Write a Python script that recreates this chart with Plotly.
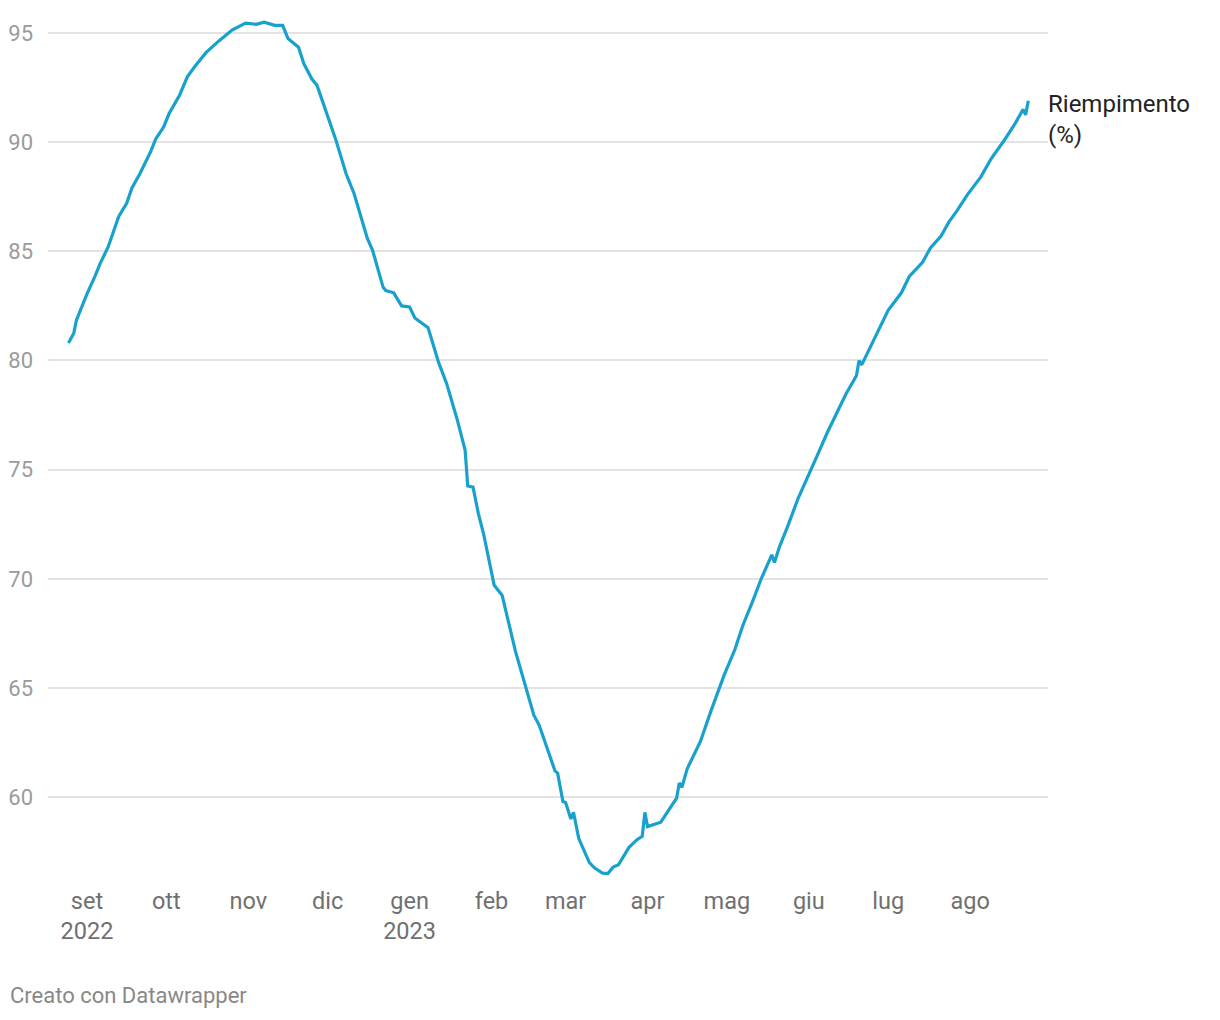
import plotly.graph_objects as go

# Riempimento stoccaggi gas (%)
dates = [
    "2022-08-25", "2022-08-27", "2022-08-28", "2022-08-30", "2022-09-01", "2022-09-04",
    "2022-09-06", "2022-09-09", "2022-09-11", "2022-09-13", "2022-09-16", "2022-09-18",
    "2022-09-21", "2022-09-25", "2022-09-27", "2022-09-30", "2022-10-02", "2022-10-06",
    "2022-10-09", "2022-10-12", "2022-10-16", "2022-10-21", "2022-10-26", "2022-10-31",
    "2022-11-04", "2022-11-07", "2022-11-11", "2022-11-14", "2022-11-16", "2022-11-20",
    "2022-11-22", "2022-11-25", "2022-11-27", "2022-12-02", "2022-12-04", "2022-12-08",
    "2022-12-11", "2022-12-16", "2022-12-18", "2022-12-22", "2022-12-23", "2022-12-26",
    "2022-12-29", "2023-01-01", "2023-01-03", "2023-01-08", "2023-01-12", "2023-01-15",
    "2023-01-19", "2023-01-22", "2023-01-23", "2023-01-25", "2023-01-27", "2023-01-29",
    "2023-02-02", "2023-02-05", "2023-02-10", "2023-02-17", "2023-02-19", "2023-02-25",
    "2023-02-26", "2023-02-28", "2023-03-01", "2023-03-03", "2023-03-04", "2023-03-06",
    "2023-03-10", "2023-03-12", "2023-03-15", "2023-03-17", "2023-03-19", "2023-03-21",
    "2023-03-25", "2023-03-28", "2023-03-30", "2023-03-31", "2023-04-01", "2023-04-06",
    "2023-04-12", "2023-04-13", "2023-04-14", "2023-04-16", "2023-04-21", "2023-04-25",
    "2023-04-30", "2023-05-04", "2023-05-07", "2023-05-11", "2023-05-14", "2023-05-18",
    "2023-05-19", "2023-05-21", "2023-05-24", "2023-05-28", "2023-06-01", "2023-06-04",
    "2023-06-08", "2023-06-11", "2023-06-15", "2023-06-19", "2023-06-20", "2023-06-21",
    "2023-06-26", "2023-07-01", "2023-07-06", "2023-07-09", "2023-07-14", "2023-07-17",
    "2023-07-21", "2023-07-24", "2023-07-27", "2023-07-31", "2023-08-05", "2023-08-09",
    "2023-08-14", "2023-08-18", "2023-08-21", "2023-08-22", "2023-08-23",
]
riempimento = [
    80.8, 81.25, 81.85, 82.45, 83.05, 83.85,
    84.45, 85.2, 85.95, 86.6, 87.2, 87.9,
    88.55, 89.55, 90.15, 90.7, 91.3, 92.15,
    93.0, 93.5, 94.1, 94.65, 95.15, 95.45,
    95.4, 95.5, 95.35, 95.35, 94.75, 94.35,
    93.6, 92.9, 92.6, 90.85, 90.15, 88.55,
    87.65, 85.6, 85.05, 83.35, 83.2, 83.1,
    82.5, 82.45, 81.95, 81.5, 79.9, 78.95,
    77.3, 75.9, 74.25, 74.2, 73.0, 72.05,
    69.7, 69.25, 66.7, 63.75, 63.3, 61.2,
    61.1, 59.8, 59.75, 59.0, 59.3, 58.1,
    57.0, 56.75, 56.52, 56.5, 56.8, 56.9,
    57.7, 58.05, 58.2, 59.3, 58.65, 58.85,
    59.95, 60.65, 60.45, 61.3, 62.55, 63.95,
    65.6, 66.75, 67.85, 69.05, 70.0, 71.1,
    70.75, 71.5, 72.4, 73.7, 74.75, 75.6,
    76.7, 77.45, 78.45, 79.3, 80.0, 79.8,
    81.05, 82.3, 83.1, 83.85, 84.5, 85.15,
    85.7, 86.35, 86.85, 87.6, 88.4, 89.25,
    90.1, 90.85, 91.5, 91.25, 91.9,
]

month_ticks = ["2022-09-01", "2022-10-01", "2022-11-01", "2022-12-01", "2023-01-01", "2023-02-01",
               "2023-03-01", "2023-04-01", "2023-05-01", "2023-06-01", "2023-07-01", "2023-08-01"]
month_labels = ["set<br>2022", "ott", "nov", "dic", "gen<br>2023", "feb",
                "mar", "apr", "mag", "giu", "lug", "ago"]
y_ticks = [60, 65, 70, 75, 80, 85, 90, 95]

FONT = "Roboto, Arial, sans-serif"

fig = go.Figure()
fig.add_trace(go.Scatter(
    x=dates, y=riempimento, mode="lines",
    line=dict(color="#18a1cd", width=3.2),
    hoverinfo="x+y", showlegend=False,
))

# la pagina ha 8px di margine nel body: lo si compensa qui
fig.update_layout(
    width=1212, height=1012,
    margin=dict(l=40, r=172, t=12, b=136),
    paper_bgcolor="white", plot_bgcolor="white",
    font=dict(family=FONT, size=22, color="#777777"),
    xaxis=dict(
        range=["2022-08-17 06:00", "2023-08-30 11:00"],
        tickvals=month_ticks, ticktext=month_labels,
        showgrid=False, zeroline=False, showline=False,
        ticks="", ticklabelstandoff=0, automargin=False,
        tickfont=dict(size=23.5, color="#707070"),
    ),
    yaxis=dict(
        range=[56.02, 95.596],
        tickvals=y_ticks,
        showgrid=True, gridcolor="#e3e3e3", gridwidth=1.5,
        zeroline=False, showline=False,
        ticks="", ticklabelstandoff=14, automargin=False,
        tickfont=dict(size=22, color="#9b9b9b"),
    ),
    annotations=[
        dict(text="Riempimento<br>(%)", xref="paper", yref="y", x=1.0, y=91.05,
             xanchor="left", yanchor="middle", align="left", showarrow=False, xshift=-2,
             font=dict(size=24, color="#222222", family=FONT)),
        dict(text="Creato con Datawrapper", xref="paper", yref="paper", x=-0.038, y=-0.1295,
             xanchor="left", yanchor="middle", showarrow=False, xshift=-2,
             font=dict(size=22, color="#888888", family=FONT)),
    ],
)

fig.write_html("out.html")
